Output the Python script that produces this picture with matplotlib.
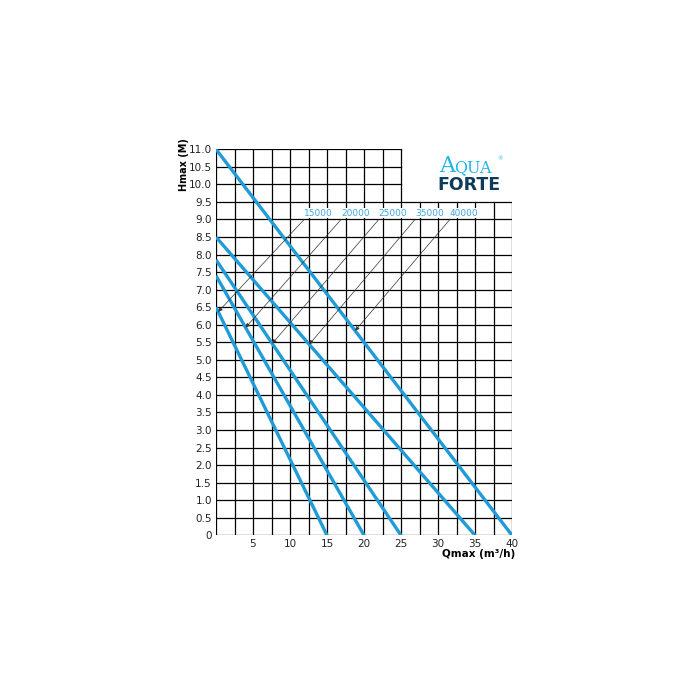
import matplotlib.pyplot as plt

# pump curves: flow at zero head / head at zero flow
models = ["15000", "20000", "25000", "35000", "40000"]
qmax = [15, 20, 25, 35, 40]
hmax = [6.5, 7.4, 7.85, 8.5, 11.0]

# where the label arrows start (label position) and where they point
label_x = [11.9, 16.9, 22.0, 26.9, 31.6]
label_y = 9.0
arrow_tip_x = [0.3, 4.0, 7.6, 12.6, 18.8]

x_ticks = [5, 10, 15, 20, 25, 30, 35, 40]
y_ticks = [i * 0.5 for i in range(23)]

blue = "#1f9bd7"
label_blue = "#3ea8de"

fig = plt.figure(figsize=(7, 7), dpi=100)
ax = fig.add_axes([216 / 700, 1 - 535.3 / 700, 296 / 700, 386 / 700])
ax.set_xlim(0, 40)
ax.set_ylim(0, 11)
for s in ax.spines.values():
    s.set_visible(False)

# grid (upper right corner left free for the logo)
for i in range(17):
    x = i * 2.5
    top = 11 if x <= 25 else 9.5
    ax.plot([x, x], [0, top], color="black", lw=0.9, zorder=1)
for y in y_ticks:
    right = 40 if y <= 9.5 else 25
    ax.plot([0, right], [y, y], color="black", lw=0.9, zorder=1)

# pump curves
for q, h in zip(qmax, hmax):
    ax.plot([0, q], [h, 0], color=blue, lw=2.4, solid_capstyle="butt", zorder=3)

# model labels with arrows
for m, lx, tx, q, h in zip(models, label_x, arrow_tip_x, qmax, hmax):
    ty = h - h / q * tx
    ax.text(lx, label_y + 0.05, m, color=label_blue, fontsize=6.5,
            ha="left", va="bottom", zorder=4,
            bbox=dict(facecolor="white", edgecolor="none", pad=0.5))
    ax.annotate("", xy=(tx, ty), xytext=(lx, label_y),
                arrowprops=dict(arrowstyle="-|>", lw=0.5, color="#333333",
                                mutation_scale=6, shrinkA=0, shrinkB=0),
                zorder=4)

ax.set_xticks(x_ticks)
ax.set_xticklabels([str(v) for v in x_ticks])
ax.set_yticks(y_ticks)
ax.set_yticklabels(["0"] + ["%.1f" % v for v in y_ticks[1:]])
ax.tick_params(length=0, labelsize=7.5, colors="#222222", pad=3)

ax.set_ylabel("Hmax (M)", fontsize=7, fontweight="bold", labelpad=2)
ax.yaxis.set_label_coords(-0.09, 0.96)
fig.text(515 / 700, 1 - 554 / 700, "Qmax (m³/h)", fontsize=7.5,
         fontweight="bold", ha="right", va="center")

# logo
fig.text(439 / 700, 1 - 166 / 700, "A", fontsize=16, color="#22b5e6",
         family="DejaVu Serif", ha="left", va="center")
fig.text(454 / 700, 1 - 168 / 700, "QUA", fontsize=11.5, color="#22b5e6",
         family="DejaVu Serif", ha="left", va="center")
fig.text(497 / 700, 1 - 159 / 700, "®", fontsize=4, color="#22b5e6",
         ha="left", va="center")
fig.text(437 / 700, 1 - 185 / 700, "FORTE", fontsize=12.5, color="#0f3b5a",
         fontweight="heavy", ha="left", va="center")

fig.savefig("out.png", dpi=100)
